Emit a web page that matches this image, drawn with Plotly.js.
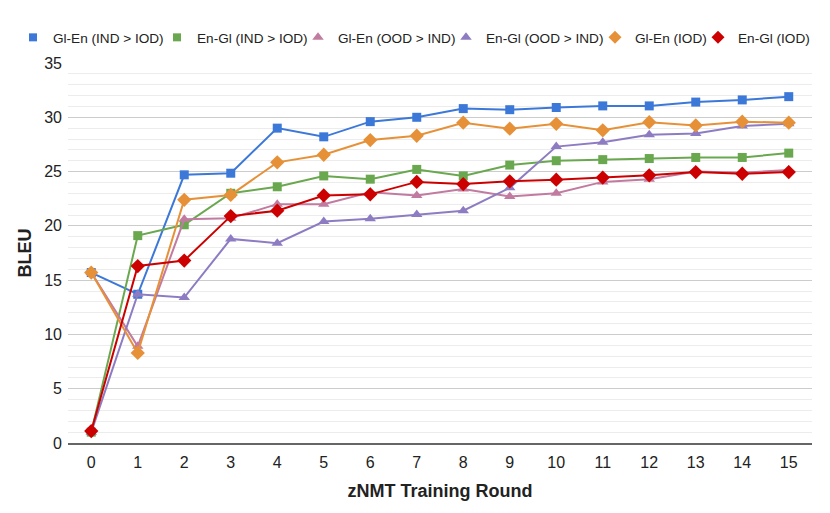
<!DOCTYPE html>
<html>
<head>
<meta charset="utf-8">
<script src="https://cdn.plot.ly/plotly-3.0.1.min.js"></script>
<style>html,body{margin:0;padding:0;background:#fff;}#chart{width:830px;height:513px;}</style>
</head>
<body>
<div id="chart"></div>
<script>
const rounds = [0,1,2,3,4,5,6,7,8,9,10,11,12,13,14,15];
const glEnIndIod = [15.7,13.7,24.7,24.85,29.0,28.2,29.6,30.0,30.8,30.7,30.9,31.05,31.05,31.4,31.6,31.9];
const enGlIndIod = [1.0,19.1,20.1,23.0,23.6,24.6,24.3,25.2,24.6,25.6,26.0,26.1,26.2,26.3,26.3,26.7];
const glEnOodInd = [15.7,8.9,20.6,20.7,22.0,22.0,23.1,22.8,23.4,22.7,23.0,24.05,24.3,25.0,24.9,25.15];
const enGlOodInd = [1.0,13.7,13.4,18.8,18.4,20.4,20.65,21.05,21.4,23.5,27.3,27.7,28.4,28.5,29.2,29.4];
const glEnIod = [15.7,8.3,22.4,22.85,25.85,26.55,27.9,28.3,29.5,28.95,29.4,28.8,29.55,29.25,29.6,29.5];
const enGlIod = [1.1,16.3,16.8,20.9,21.4,22.8,22.9,24.05,23.85,24.1,24.25,24.45,24.65,24.95,24.8,24.95];
const seriesNames = ["Gl-En (IND > IOD)","En-Gl (IND > IOD)","Gl-En (OOD > IND)","En-Gl (OOD > IND)","Gl-En (IOD)","En-Gl (IOD)"];

const seriesData = [glEnIndIod, enGlIndIod, glEnOodInd, enGlOodInd, glEnIod, enGlIod];
const colors = ["#3c78d8","#6aa84f","#c27ba0","#8e7cc3","#e69138","#cc0000"];
const symbols = ["square","square","triangle-up","triangle-up","diamond","diamond"];
const sizes = [9,9,10,10,11,11];
const legendSizes = [8,8,10,10,10,10];
// legend marker centres (px from left of the figure)
const legendMarkerX = [33,177,318,466,615,718];

const legendIds = ["legend","legend2","legend3","legend4","legend5","legend6"];
const traces = [];
seriesData.forEach((ys, i) => {
  traces.push({
    x: rounds, y: ys, type: "scatter", mode: "lines+markers",
    name: seriesNames[i], showlegend: false,
    line: {color: colors[i], width: 2},
    marker: {color: colors[i], symbol: symbols[i], size: sizes[i]}
  });
});
seriesData.forEach((ys, i) => {
  traces.push({
    x: [null], y: [null], type: "scatter", mode: "markers",
    name: seriesNames[i], showlegend: true, legend: legendIds[i],
    marker: {color: colors[i], symbol: symbols[i], size: legendSizes[i]}
  });
});

const layout = {
  width: 830, height: 513,
  margin: {l: 68, r: 18, t: 63, b: 70},
  paper_bgcolor: "#fff", plot_bgcolor: "#fff",
  font: {family: "Arial, 'Liberation Sans', sans-serif", color: "#222"},
  showlegend: true,
  xaxis: {
    range: [-0.5, 15.5], tickmode: "array", tickvals: rounds, ticktext: rounds.map(String),
    showgrid: false, zeroline: false, showline: true, linecolor: "#666", linewidth: 1.5,
    ticks: "", tickfont: {size: 16, color: "#222"}, ticklabelstandoff: 4,
    title: {text: "zNMT Training Round", font: {size: 18, color: "#222", weight: "bold"}, standoff: 14},
    fixedrange: true
  },
  yaxis: {
    range: [0, 35], dtick: 5, tick0: 0, showgrid: true, gridcolor: "#cccccc", gridwidth: 1,
    zeroline: false, showline: false, ticks: "", tickfont: {size: 16, color: "#222"}, ticklabelstandoff: 5,
    minor: {dtick: 1, showgrid: true, gridcolor: "#ececec", gridwidth: 1},
    title: {text: "BLEU", font: {size: 18, color: "#222", weight: "bold"}, standoff: 7},
    fixedrange: true
  }
};
legendIds.forEach((id, i) => {
  layout[id] = {
    orientation: "h", xref: "container", yref: "container",
    x: (legendMarkerX[i] - 20) / 830, xanchor: "left",
    y: 1 - 37.5 / 513, yanchor: "middle",
    font: {size: 13.6, color: "#222"}, itemwidth: 30, bgcolor: "rgba(0,0,0,0)"
  };
});
Plotly.newPlot("chart", traces, layout, {displayModeBar: false, staticPlot: true});
</script>
</body>
</html>
